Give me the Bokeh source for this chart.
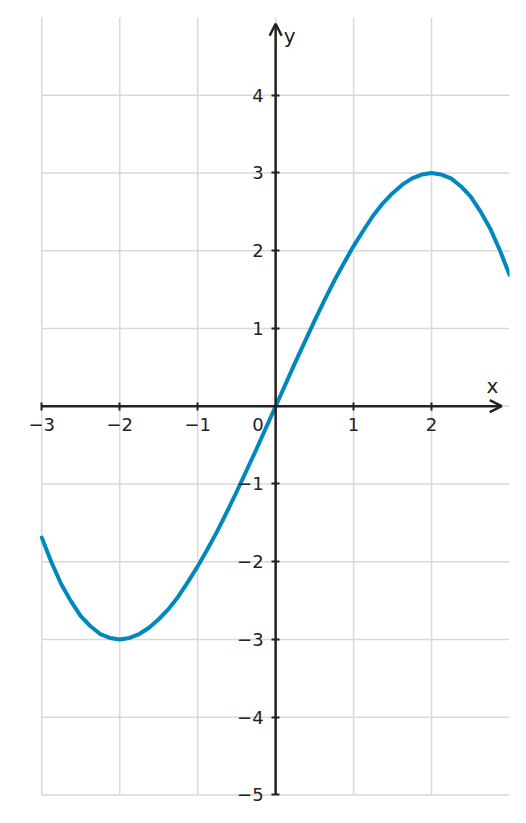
from bokeh.plotting import figure
from bokeh.models import FixedTicker, CustomJSTickFormatter, Arrow, OpenHead, Label, Range1d
from bokeh.embed import file_html
from bokeh.resources import INLINE

# Curve values
xs = [-3, -2.875, -2.75, -2.625, -2.5, -2.375, -2.25, -2.125, -2, -1.875, -1.75, -1.625,
      -1.5, -1.375, -1.25, -1.125, -1, -0.875, -0.75, -0.625, -0.5, -0.375, -0.25, -0.125,
      0, 0.125, 0.25, 0.375, 0.5, 0.625, 0.75, 0.875, 1, 1.125, 1.25, 1.375, 1.5, 1.625,
      1.75, 1.875, 2, 2.125, 2.25, 2.375, 2.5, 2.625, 2.75, 2.875, 3]
ys = [-1.69, -2.01, -2.29, -2.51, -2.70, -2.83, -2.93, -2.98, -3.0, -2.98, -2.93, -2.85,
      -2.74, -2.61, -2.45, -2.26, -2.06, -1.84, -1.61, -1.36, -1.10, -0.83, -0.56, -0.28,
      0, 0.28, 0.56, 0.83, 1.10, 1.36, 1.61, 1.84, 2.06, 2.26, 2.45, 2.61, 2.74, 2.85,
      2.93, 2.98, 3.0, 2.98, 2.93, 2.83, 2.70, 2.51, 2.29, 2.01, 1.69]

x_ticks = [-3, -2, -1, 1, 2]
y_ticks = [-5, -4, -3, -2, -1, 1, 2, 3, 4]
x_grid = [-3, -2, -1, 0, 1, 2]
y_grid = [-5, -4, -3, -2, -1, 0, 1, 2, 3, 4]
x_lim = (-3, 3)
y_lim = (-5, 5)

AX = "#222222"
GRID = "#d9d9d9"
FONT = "DejaVu Sans"

p = figure(width=518, height=820, x_range=Range1d(-3.35, 3), y_range=Range1d(-5.2, 5),
           output_backend="svg", toolbar_location=None,
           min_border_left=14, min_border_right=9, min_border_top=17, min_border_bottom=10)
p.outline_line_color = None
p.background_fill_color = "white"
p.xgrid.visible = False
p.ygrid.visible = False

# grid lines limited to the data area
p.segment(x0=x_grid, y0=[y_lim[0]] * len(x_grid), x1=x_grid, y1=[y_lim[1]] * len(x_grid),
          line_color=GRID, line_width=1.5)
p.segment(x0=[x_lim[0]] * len(y_grid), y0=y_grid, x1=[x_lim[1]] * len(y_grid), y1=y_grid,
          line_color=GRID, line_width=1.5)

fmt = CustomJSTickFormatter(code="return tick < 0 ? '\u2212' + (-tick) : '' + tick;")

xa = p.xaxis[0]
xa.fixed_location = 0
xa.ticker = FixedTicker(ticks=x_ticks)
ya = p.yaxis[0]
ya.fixed_location = 0
ya.ticker = FixedTicker(ticks=y_ticks)
for a in (xa, ya):
    a.formatter = fmt
    a.axis_line_color = None
    a.minor_tick_line_color = None
    a.major_tick_in = 4
    a.major_tick_out = 4
    a.major_tick_line_color = AX
    a.major_tick_line_width = 2
    a.major_label_text_font = FONT
    a.major_label_text_font_size = "18px"
    a.major_label_text_color = AX
xa.major_label_standoff = 8
ya.major_label_standoff = 8

p.line(xs, ys, line_color="#0087BD", line_width=4, line_join="round", line_cap="round")

# coordinate axes with arrows
p.add_layout(Arrow(x_start=x_lim[0], y_start=0, x_end=2.9, y_end=0,
                   line_color=AX, line_width=2.5,
                   end=OpenHead(size=12, line_color=AX, line_width=2.5)))
p.add_layout(Arrow(x_start=0, y_start=y_lim[0], x_end=0, y_end=4.92,
                   line_color=AX, line_width=2.5,
                   end=OpenHead(size=12, line_color=AX, line_width=2.5)))

p.add_layout(Label(x=0, y=0, x_offset=-12, y_offset=-12, text="0", text_align="right",
                   text_baseline="top", text_font=FONT, text_font_size="18px", text_color=AX))
p.add_layout(Label(x=2.78, y=0.26, text="x", text_align="center", text_baseline="middle",
                   text_font=FONT, text_font_size="20px", text_color=AX))
p.add_layout(Label(x=0.18, y=4.76, text="y", text_align="center", text_baseline="middle",
                   text_font=FONT, text_font_size="20px", text_color=AX))

open("out.html", "w").write(file_html(p, INLINE))
